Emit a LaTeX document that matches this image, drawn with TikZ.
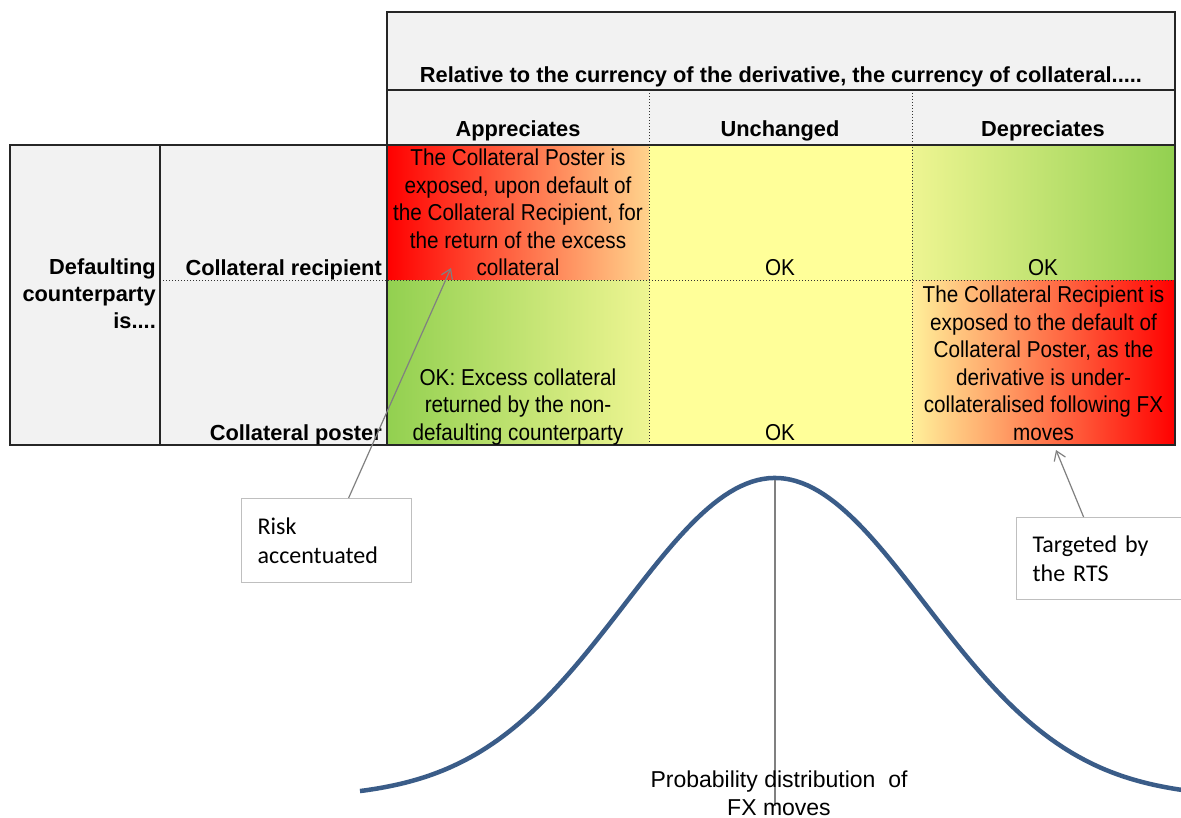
\documentclass[tikz,border=0pt]{standalone}
\usepackage{fontspec}
\setmainfont{Liberation Sans}
\newfontfamily\cellfont[FakeStretch=0.9]{Liberation Sans}
\newfontfamily\notefont{Carlito}
\usetikzlibrary{arrows.meta}
\usetikzlibrary{positioning}
\definecolor{hdrgray}{HTML}{F2F2F2}
\definecolor{okyellow}{HTML}{FFFF99}
\definecolor{okgreen}{HTML}{92D050}
\definecolor{paleyellow}{HTML}{EEF592}
\definecolor{riskred}{HTML}{FF0000}
\definecolor{riskorange}{HTML}{FF7A45}
\definecolor{riskpeach}{HTML}{FFD38C}
\definecolor{riskpale}{HTML}{FFF09A}
\definecolor{curveblue}{HTML}{3A5C88}
\definecolor{pointergray}{HTML}{808080}
\definecolor{boxgray}{HTML}{BFBFBF}
\tikzset{
  hdr/.style={font=\fontsize{21.8}{27}\selectfont\bfseries, inner sep=0pt, anchor=base},
  celltxt/.style={font=\cellfont\fontsize{23}{27.5}\selectfont, align=center, inner sep=0pt, anchor=base},
  frame/.style={line width=1.4pt, black!85},
  dotline/.style={line width=1pt, dotted, black!80},
  note/.style={draw=boxgray, line width=1.2pt, fill=white, font=\notefont\fontsize{24}{29}\selectfont,
    align=left, inner xsep=16pt, inner ysep=0pt, anchor=north west},
  pointer/.style={draw=pointergray, line width=1.2pt, -{Straight Barb[length=9pt,width=12pt]}},
}
\begin{document}
\begin{tikzpicture}[x=1pt,y=-1pt]
    \useasboundingbox[fill=white] (0,0) rectangle (1181,818);
    % table fills
    \fill[hdrgray] (387,12) rectangle (1175,145);
    \fill[hdrgray] (10,145) rectangle (387,445);
    \fill[left color=riskred, middle color=riskorange, right color=riskpeach] (387,145) rectangle (649,281);
    \fill[okyellow] (649,145) rectangle (912,445);
    \fill[left color=paleyellow, right color=okgreen] (912,145) rectangle (1175,281);
    \fill[left color=okgreen, right color=paleyellow] (387,281) rectangle (649,445);
    \fill[left color=riskpale, middle color=riskorange, right color=riskred] (912,281) rectangle (1175,445);
    % grid
    \draw[dotline] (649,90) -- (649,445);
    \draw[dotline] (912,90) -- (912,445);
    \draw[dotline] (160,281) -- (1175,281);
    \draw[frame] (387,12) rectangle (1175,445);
    \draw[frame] (387,90) -- (1175,90);
    \draw[frame] (10,145) rectangle (1175,445);
    \draw[frame] (160,145) -- (160,445);
    % headings
    \node[hdr] (relhdr) at (781,83) {Relative to the currency of the derivative, the currency of collateral.....};
    \node[hdr] (apphdr) at (518,137) {Appreciates};
    \node[hdr] (unchhdr) at (780,137) {Unchanged};
    \node[hdr] (dephdr) at (1043,137) {Depreciates};
    \node[hdr, anchor=base east, align=right] (defaulting) at (156,329) {Defaulting\\counterparty\\is....};
    \node[hdr, anchor=base east] (recipient) at (382,276) {Collateral recipient};
    \node[hdr, anchor=base east] (poster) at (382,440) {Collateral poster};
    % cells
    \node[celltxt] (posterrisk) at (518,276) {The Collateral Poster is\\exposed, upon default of\\the Collateral Recipient, for\\the return of the excess\\collateral};
    \node[celltxt] (okrecunch) at (780,276) {OK};
    \node[celltxt] (okrecdep) at (1043,276) {OK};
    \node[celltxt] (okpostapp) at (518,440) {OK: Excess collateral\\returned by the non-\\defaulting counterparty};
    \node[celltxt] (okpostunch) at (780,440) {OK};
    \node[celltxt] (recipientrisk) at (1043.5,440) {The Collateral Recipient is\\exposed to the default of\\Collateral Poster, as the\\derivative is under-\\collateralised following FX\\moves};
    % distribution
    \coordinate (peak) at (775,478);
    \coordinate (peakfoot) at (775,806);
    \draw[pointergray, line width=1.2pt] (peak) -- (peakfoot);
    \draw[curveblue, line width=4.5pt] plot[domain=-4.15:4.08, samples=150] ({775+100*\x}, {798-320*exp(-\x*\x/4.5)});
    \node[font=\fontsize{23}{28}\selectfont, align=center, inner sep=0pt, anchor=base] (fxlabel) at (779,815) {Probability distribution~ of\\FX moves};
    % call-outs
    \node[note, minimum width=170pt, minimum height=84pt, text width=138pt] (risk) at (241,498) {Risk\\accentuated};
    \node[note, minimum width=176pt, minimum height=82pt, text width=144pt] (rts) at (1016,517) {Targeted by\\the RTS};
    \coordinate (risktip) at (451,268);
    \coordinate (rtstip) at (1056,450);
    \draw[pointer] ([xshift=22pt]risk.north) -- (risktip);
    \draw[pointer] ([xshift=-21pt]rts.north) -- (rtstip);
\end{tikzpicture}
\end{document}
